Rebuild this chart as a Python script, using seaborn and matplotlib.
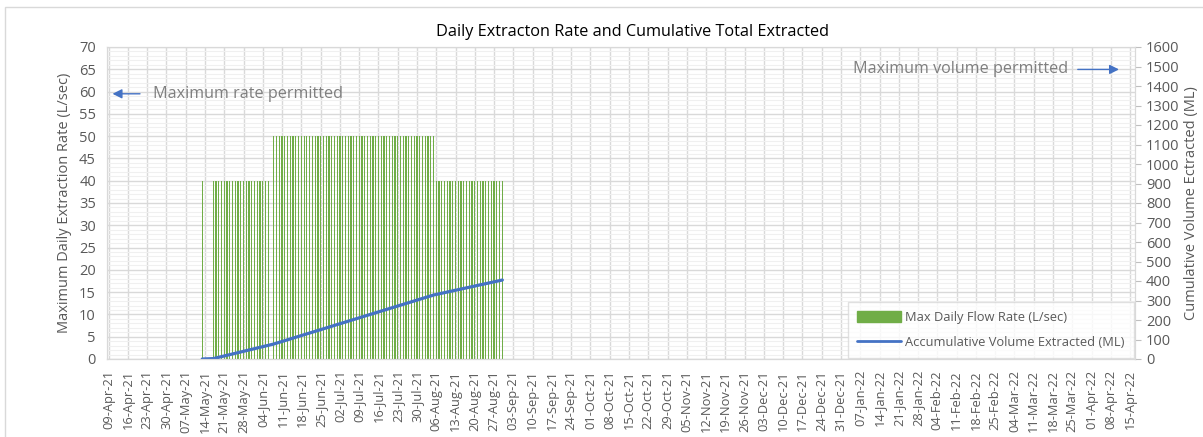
import matplotlib
matplotlib.use("Agg")
import matplotlib.pyplot as plt
import matplotlib.dates as mdates
from matplotlib.ticker import MultipleLocator, FixedLocator, FuncFormatter
from matplotlib.patches import Patch, Rectangle
from matplotlib.lines import Line2D
import seaborn as sns
import pandas as pd

# periods with a constant max daily flow rate (L/sec)
rate_start = ["2021-05-13", "2021-05-17", "2021-06-08", "2021-08-06"]
rate_end = ["2021-05-13", "2021-06-06", "2021-08-05", "2021-08-30"]
rate_value = [40, 40, 50, 40]

# cumulative volume readings (ML)
vol_dates = ["2021-05-13", "2021-05-17", "2021-06-08", "2021-08-05", "2021-08-30"]
vol_values = [0, 2, 77, 328, 405]

axis_start = "2021-04-09"
axis_end = "2022-04-15"

GREEN = "#70AD47"
BLUE = "#4472C4"
GREY = "#595959"
GRID = "#d9d9d9"

sns.set_style("white")
plt.rcParams["font.family"] = ["Open Sans", "DejaVu Sans"]

# daily bars from the periods
days, rates = [], []
for s, e, v in zip(rate_start, rate_end, rate_value):
    for d in pd.date_range(s, e, freq="D"):
        days.append(mdates.date2num(d))
        rates.append(v)
bars = pd.DataFrame({"day": days, "rate": rates})

vol = pd.DataFrame({"day": mdates.date2num(pd.to_datetime(vol_dates)), "vol": vol_values})

fig = plt.figure(figsize=(12.03, 4.37), dpi=100)
W, H = 1203, 437
ax = fig.add_axes([107 / W, (H - 359) / H, (1135 - 107) / W, (359 - 47) / H])

x0 = mdates.date2num(pd.Timestamp(axis_start))

sns.barplot(data=bars, x="day", y="rate", native_scale=True, width=0.45,
            color=GREEN, saturation=1, linewidth=0, ax=ax, zorder=2)

ax.set_xlim(x0 - 0.6, x0 + 372.8)
ax.set_ylim(0, 70)
ax.yaxis.set_major_locator(MultipleLocator(5))
ax.yaxis.set_minor_locator(MultipleLocator(1))
week_ticks = mdates.date2num(pd.date_range(axis_start, axis_end, freq="7D"))
ax.xaxis.set_major_locator(FixedLocator(week_ticks))
ax.xaxis.set_major_formatter(FuncFormatter(lambda v, p: mdates.num2date(v).strftime("%d-%b-%y")))
ax.set_axisbelow(True)
ax.grid(which="major", axis="both", color=GRID, linewidth=1)
ax.grid(which="minor", axis="y", color="#f0f0f0", linewidth=0.8)
ax.tick_params(axis="x", labelrotation=90, length=0, pad=8, labelsize=9.3, labelcolor=GREY)
ax.tick_params(axis="y", which="both", length=0, pad=8, labelsize=10.5, labelcolor=GREY)
ax.set_xlabel("")
ax.set_ylabel("Maximum Daily Extraction Rate (L/sec)", fontsize=10.5, color=GREY, labelpad=5)
for sp in ax.spines.values():
    sp.set_color(GRID)
ax.spines["bottom"].set_color("#bfbfbf")

ax2 = ax.twinx()
sns.lineplot(data=vol, x="day", y="vol", color=BLUE, linewidth=2.3, ax=ax2)
ax2.set_ylim(0, 1600)
ax2.yaxis.set_major_locator(MultipleLocator(100))
ax2.tick_params(axis="y", length=4, width=0.8, color="#bfbfbf", pad=4, labelsize=10.5, labelcolor=GREY)
ax2.set_ylabel("Cumulative Volume Ectracted (ML)", fontsize=10.5, color=GREY, labelpad=3)
ax2.set_xlabel("")
for sp in ax2.spines.values():
    sp.set_color(GRID)
ax2.set_xlim(ax.get_xlim())

# annotations
ax.annotate("", xy=(x0 + 0.4, 59.5), xytext=(x0 + 12.4, 59.5),
            arrowprops=dict(arrowstyle="-|>", color=BLUE, lw=1, mutation_scale=14))
ax.text(x0 + 16, 59.5, "Maximum rate permitted", color="#7f7f7f", fontsize=11.6,
        va="center", ha="left")
ax2.annotate("", xy=(x0 + 368, 1485), xytext=(x0 + 351, 1485),
             arrowprops=dict(arrowstyle="-|>", color=BLUE, lw=1, mutation_scale=14))
ax2.text(x0 + 348.5, 1485, "Maximum volume permitted", color="#7f7f7f", fontsize=11.6,
         va="center", ha="right")

handles = [Patch(color=GREEN), Line2D([0], [0], color=BLUE, lw=2)]
leg = ax2.legend(handles, ["Max Daily Flow Rate (L/sec)", "Accumulative Volume Extracted (ML)"],
                 loc="lower right", bbox_to_anchor=(1.0, 0.0), frameon=True, fancybox=False,
                 fontsize=9.3, handlelength=3.4, handleheight=0.9, borderpad=0.7,
                 labelspacing=0.9, handletextpad=0.3, borderaxespad=0.1)
leg.get_frame().set_edgecolor(GRID)
leg.get_frame().set_linewidth(1)
for t in leg.get_texts():
    t.set_color(GREY)

fig.text(632 / W, (H - 32) / H, "Daily Extracton Rate and Cumulative Total Extracted",
         ha="center", va="center", fontsize=11.7, color="black")

fig.patches.append(Rectangle((5 / W, -0.1), 1.2, (H - 7) / H + 0.1, transform=fig.transFigure,
                             fill=False, edgecolor=GRID, linewidth=1))

fig.savefig("out.png", dpi=100)
